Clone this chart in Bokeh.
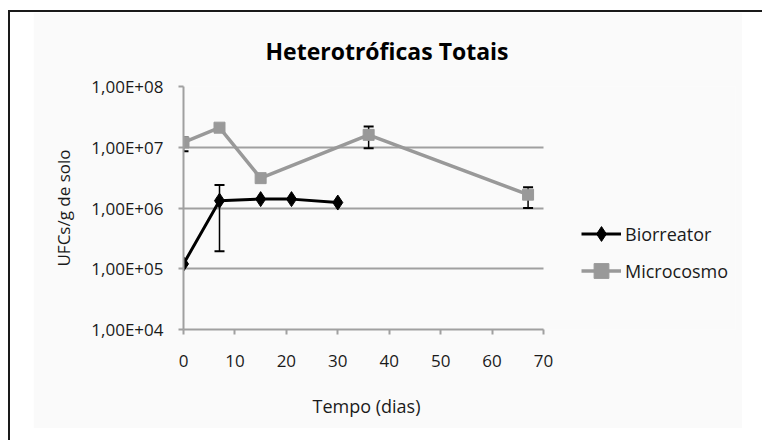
from bokeh.plotting import figure
from bokeh.layouts import column
from bokeh.models import (Range1d, FixedTicker, CustomJSTickFormatter, ColumnDataSource,
                          Whisker, TeeHead, Legend, LegendItem, Title, Grid)
from bokeh.embed import file_html
from bokeh.resources import INLINE

# ---- data ----
bio_days = [0, 7, 15, 21, 30]
bio_vals = [1.2e5, 1.32e6, 1.4e6, 1.4e6, 1.23e6]
bio_err_days = [7]
bio_err_low = [1.95e5]
bio_err_high = [2.4e6]

mic_days = [0, 7, 15, 36, 67]
mic_vals = [1.2e7, 2.1e7, 3.1e6, 1.6e7, 1.66e6]
mic_err_days = [0, 36, 67]
mic_err_low = [8.6e6, 9.6e6, 1.0e6]
mic_err_high = [1.45e7, 2.2e7, 2.2e6]

x_ticks = [0, 10, 20, 30, 40, 50, 60, 70]
y_ticks = [1e4, 1e5, 1e6, 1e7, 1e8]
x_min, x_max = 0, 70

FONT = "Open Sans"
GRID = "#a0a0a0"
PANEL = "#fafafa"
TXT = "#1a1a1a"

# plot area spans 0..70 days over 360 px; the frame continues to the right to hold the legend
FRAME_W = 552
x_end = x_max * FRAME_W / 360.0

p = figure(width=709, height=416, output_backend="svg", toolbar_location=None,
           x_range=Range1d(x_min, x_end), y_range=Range1d(1e4, 1e8), y_axis_type="log",
           min_border_left=150, min_border_right=7, min_border_top=74, min_border_bottom=97,
           background_fill_color=PANEL, border_fill_color=PANEL)
p.outline_line_color = None

# title
p.title.text = "Heterotróficas Totais"
p.title.text_font = FONT
p.title.text_font_size = "23px"
p.title.text_font_style = "bold"
p.title.text_color = "black"
p.title.align = "left"
p.title.offset = 82
p.title.standoff = 40

# axes
p.xaxis.ticker = FixedTicker(ticks=x_ticks)
p.xaxis.bounds = (x_min, x_max)
p.yaxis.ticker = FixedTicker(ticks=y_ticks)
p.yaxis.formatter = CustomJSTickFormatter(code="""
    const e = Math.round(Math.log10(tick));
    return '1,00E+' + (e < 10 ? '0' + e : '' + e);
""")
for ax in (p.xaxis[0], p.yaxis[0]):
    ax.axis_line_color = GRID
    ax.axis_line_width = 2
    ax.major_tick_line_color = GRID
    ax.major_tick_line_width = 2
    ax.major_tick_out = 5
    ax.major_tick_in = 0
    ax.minor_tick_line_color = None
    ax.major_label_text_font = FONT
    ax.major_label_text_font_size = "17px"
    ax.major_label_text_color = TXT
    ax.axis_label_text_font = FONT
    ax.axis_label_text_font_style = "normal"
    ax.axis_label_text_color = TXT

p.yaxis.axis_label = "UFCs/g de solo"
p.yaxis.axis_label_text_font_size = "17px"
p.xaxis.major_label_standoff = 20
p.yaxis.major_label_standoff = 15
p.yaxis.axis_label_standoff = 13
# blank spacer label under the x tick labels (pushes the x title down)
p.xaxis.axis_label = "\u00a0"
p.xaxis.axis_label_text_font_size = "7px"
p.xaxis.axis_label_standoff = 0

xt = Title(text="Tempo (dias)", align="left", offset=129, standoff=21,
           text_font=FONT, text_font_size="18px", text_font_style="normal", text_color=TXT)
p.add_layout(xt, "below")

# horizontal grid limited to the 0..70 day span
p.xgrid.grid_line_color = None
if "cross_bounds" in Grid.properties():
    p.ygrid.ticker = FixedTicker(ticks=y_ticks)
    p.ygrid.grid_line_color = GRID
    p.ygrid.grid_line_width = 2
    p.ygrid.cross_bounds = (x_min, x_max)
else:
    p.ygrid.grid_line_color = None
    p.segment(x0=[x_min] * len(y_ticks), x1=[x_max] * len(y_ticks), y0=y_ticks, y1=y_ticks,
              line_color=GRID, line_width=2, level="underlay")

# series
src_mic_err = ColumnDataSource(dict(x=mic_err_days, lo=mic_err_low, hi=mic_err_high))
src_bio_err = ColumnDataSource(dict(x=bio_err_days, lo=bio_err_low, hi=bio_err_high))

for src in (src_mic_err, src_bio_err):
    w = Whisker(source=src, base="x", lower="lo", upper="hi", line_color="black", line_width=1.5,
                upper_head=TeeHead(size=10, line_color="black", line_width=2),
                lower_head=TeeHead(size=10, line_color="black", line_width=2))
    p.add_layout(w)

mic_line = p.line(mic_days, mic_vals, line_color="#999999", line_width=3.5)
mic_pts = p.scatter(mic_days, mic_vals, marker="square", size=11, fill_color="#999999", line_color="#999999")
bio_line = p.line(bio_days, bio_vals, line_color="black", line_width=3)
bio_pts = p.scatter(bio_days, bio_vals, marker="diamond", size=15, fill_color="black", line_color="black")

legend = Legend(items=[LegendItem(label="Biorreator", renderers=[bio_line, bio_pts]),
                       LegendItem(label="Microcosmo", renderers=[mic_line, mic_pts])],
                location=(398, 40), orientation="vertical",
                background_fill_alpha=0, border_line_color=None,
                label_text_font=FONT, label_text_font_size="18px", label_text_color=TXT,
                glyph_width=40, glyph_height=37, label_height=37, label_standoff=4,
                spacing=0, padding=0, margin=0)
p.add_layout(legend, "center")

layout = column(p, styles={"margin-left": "8px", "margin-top": "10px",
                           "padding-left": "23px", "padding-top": "0px",
                           "padding-right": "40px", "padding-bottom": "40px",
                           "border": "2px solid #1a1a1a", "background-color": "white"})

open("out.html", "w").write(file_html(layout, INLINE))
